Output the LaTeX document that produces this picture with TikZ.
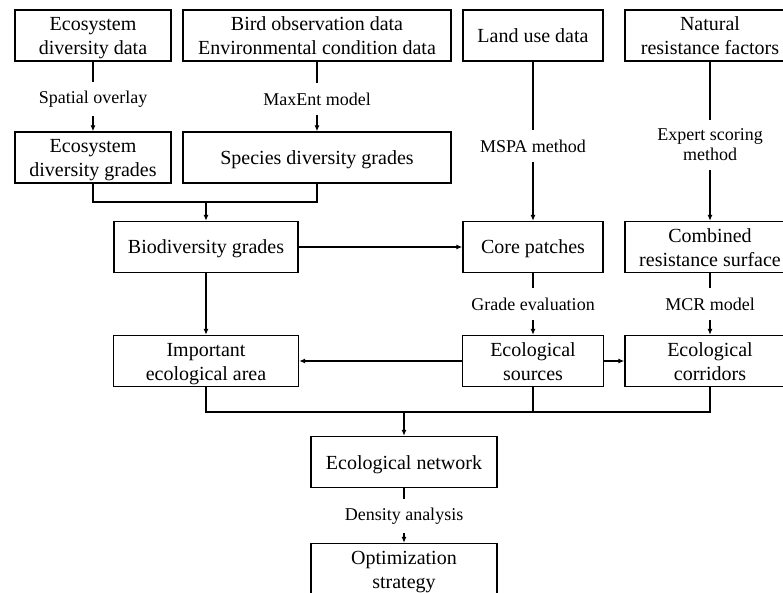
\documentclass[tikz,border=0pt]{standalone}
\usepackage{fontspec}
\setmainfont{Liberation Serif}
\usetikzlibrary{arrows.meta}

\begin{document}
\begin{tikzpicture}[x=1pt,y=-1pt,>={Latex[length=6pt,width=5pt]},
        box/.style={draw,line width=1.4pt,align=center,minimum height=51pt,inner sep=2pt,font=\fontsize{20}{24}\selectfont,text height=16pt,text depth=2pt},
        box2/.style={box,text height=42pt,text depth=3pt},
        lbl/.style={inner xsep=0pt,inner ysep=9pt,align=center,font=\fontsize{18}{20}\selectfont},
        conn/.style={line width=1.1pt}]
        \useasboundingbox (0,0) rectangle (783,593);

        \node[box2,minimum width=156pt] (ecodata) at (93,35.5) {Ecosystem\\diversity data};
        \node[box2,minimum width=268pt] (birddata) at (317,35.5) {Bird observation data\\Environmental condition data};
        \node[box,minimum width=140pt] (landuse) at (533,35.5) {Land use data};
        \node[box2,minimum width=170pt] (natfactor) at (710,35.5) {Natural\\resistance factors};

        \node[lbl] (overlay) at (93,99) {Spatial overlay};
        \node[lbl] (maxent) at (317,99) {MaxEnt model};
        \node[lbl] (mspa) at (533,146) {MSPA method};
        \node[lbl] (expert) at (710,145) {Expert scoring\\method};

        \node[box2,minimum width=156pt] (ecograde) at (93,157.5) {Ecosystem\\diversity grades};
        \node[box,minimum width=268pt] (spgrade) at (317,157.5) {Species diversity grades};

        \node[box,minimum width=184pt] (biograde) at (206,247) {Biodiversity grades};
        \node[box,minimum width=140pt] (core) at (533,247) {Core patches};
        \node[box2,minimum width=170pt] (resist) at (710,247) {Combined\\resistance surface};

        \node[lbl] (gradeval) at (533,304) {Grade evaluation};
        \node[lbl] (mcr) at (710,304) {MCR model};

        \node[box2,minimum width=185pt] (imparea) at (206,361) {Important\\ecological area};
        \node[box2,minimum width=141pt] (sources) at (533,361) {Ecological\\sources};
        \node[box2,minimum width=170pt] (corridors) at (710,361) {Ecological\\corridors};

        \node[box,minimum width=186pt] (network) at (404,462) {Ecological network};
        \node[lbl] (density) at (404,516) {Density analysis};
        \node[box2,minimum width=186pt] (optim) at (404,569) {Optimization\\strategy};

        \coordinate (j1) at (206,202);
        \coordinate (j2) at (404,412);

        \draw[conn] (ecodata) -- (overlay);
        \draw[conn,->] (overlay) -- (ecograde);
        \draw[conn] (birddata) -- (maxent);
        \draw[conn,->] (maxent) -- (spgrade);
        \draw[conn] (landuse) -- (mspa);
        \draw[conn,->] (mspa) -- (core);
        \draw[conn] (natfactor) -- (expert);
        \draw[conn,->] (expert) -- (resist);

        \draw[conn] (ecograde.south) |- (spgrade.south |- j1) -- (spgrade.south);
        \draw[conn,->] (j1) -- (biograde);
        \draw[conn,->] (biograde) -- (core);
        \draw[conn,->] (biograde) -- (imparea);

        \draw[conn] (core) -- (gradeval);
        \draw[conn,->] (gradeval) -- (sources);
        \draw[conn] (resist) -- (mcr);
        \draw[conn,->] (mcr) -- (corridors);
        \draw[conn,->] (sources) -- (imparea);
        \draw[conn,->] (sources) -- (corridors);

        \draw[conn] (imparea.south) |- (corridors.south |- j2) -- (corridors.south);
        \draw[conn] (sources.south) -- (sources.south |- j2);
        \draw[conn,->] (j2) -- (network);
        \draw[conn] (network) -- (density);
        \draw[conn,->] (density) -- (optim);
\end{tikzpicture}
\end{document}
